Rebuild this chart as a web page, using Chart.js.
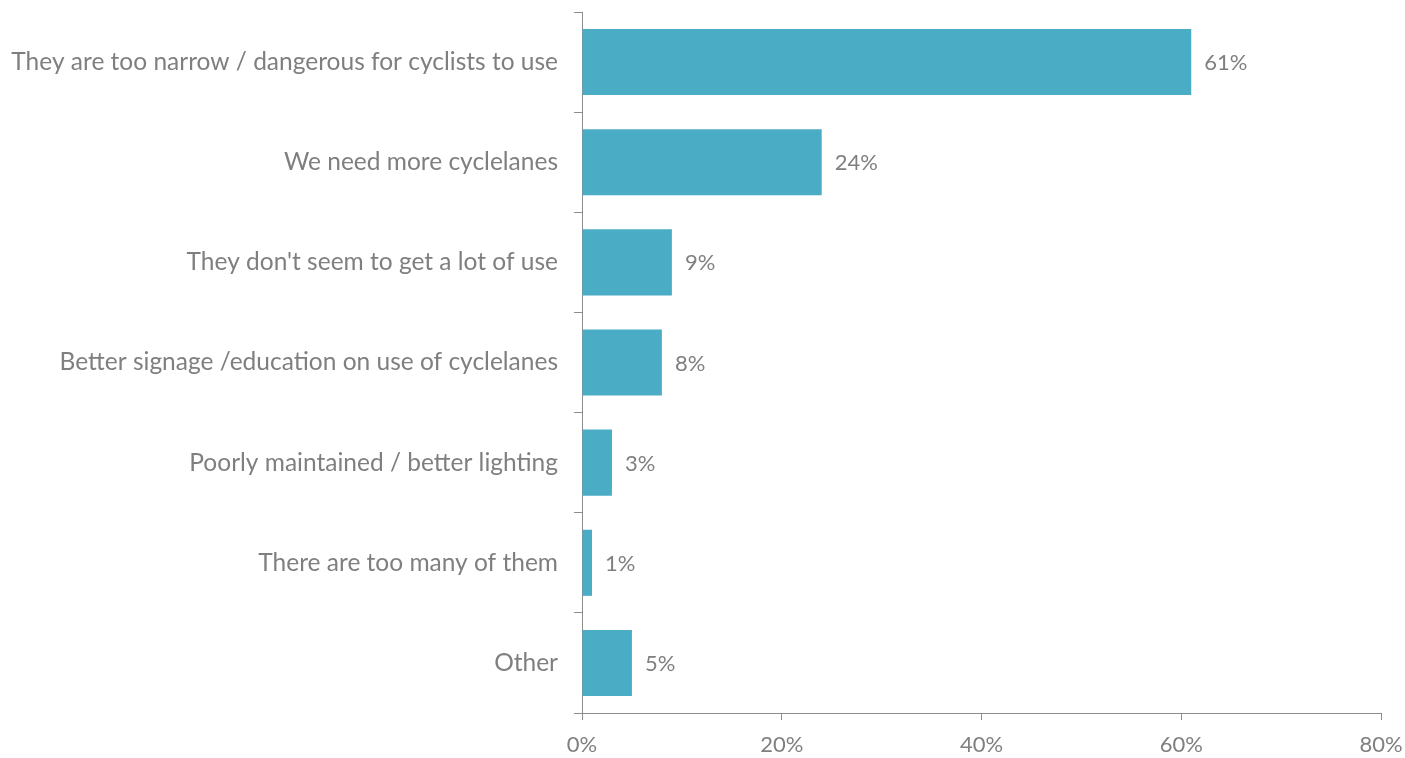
<!DOCTYPE html>
<html>
<head>
<meta charset="utf-8">
<script src="https://cdn.jsdelivr.net/npm/chart.js@4/dist/chart.umd.min.js"></script>
<style>
  html, body { margin: 0; padding: 0; background: #fff; }
  #wrap { width: 1405px; height: 758px; position: relative; }
</style>
</head>
<body>
<div id="wrap"><canvas id="cyclelanes"></canvas></div>
<script>
// Survey answers about cycle lanes, share of respondents (%)
const answers = [
  "They are too narrow / dangerous for cyclists to use",
  "We need more cyclelanes",
  "They don't seem to get a lot of use",
  "Better signage /education on use of cyclelanes",
  "Poorly maintained / better lighting",
  "There are too many of them",
  "Other",
];
const shares = [61, 24, 9, 8, 3, 1, 5];
const axisTicks = [0, 20, 40, 60, 80];

const TEXT = "#7f7f7f";
const LINE = "#8c8c8c";
const FONT = "Lato, 'Open Sans', sans-serif";

// value labels just past the end of each bar
const barLabels = {
  id: "barLabels",
  afterDatasetsDraw(chart) {
    const { ctx } = chart;
    const meta = chart.getDatasetMeta(0);
    ctx.save();
    ctx.font = `22px ${FONT}`;
    ctx.fillStyle = TEXT;
    ctx.textAlign = "left";
    ctx.textBaseline = "middle";
    meta.data.forEach((bar, i) => {
      ctx.fillText(`${shares[i]}%`, bar.x + 13, bar.y + 1);
    });
    ctx.restore();
  },
};

new Chart(document.getElementById("cyclelanes"), {
  type: "bar",
  data: {
    labels: answers,
    datasets: [{
      data: shares,
      backgroundColor: "#4bacc6",
      borderWidth: 0,
      barPercentage: 0.66,
      categoryPercentage: 1,
    }],
  },
  options: {
    indexAxis: "y",
    responsive: true,
    maintainAspectRatio: false,
    animation: false,
    layout: { padding: { top: 12, right: 24, left: 0, bottom: 0 } },
    plugins: { legend: { display: false }, tooltip: { enabled: false } },
    scales: {
      x: {
        min: 0,
        max: 80,
        afterBuildTicks(scale) {
          scale.ticks = axisTicks.map((v) => ({ value: v }));
        },
        afterFit(scale) {
          scale.height = 45;
          scale.paddingLeft = 0;
          scale.paddingRight = 0;
        },
        border: { color: LINE, width: 1 },
        grid: { drawOnChartArea: false, tickLength: 7, color: LINE },
        ticks: {
          color: TEXT,
          font: { family: FONT, size: 22 },
          padding: 12,
          callback: (v) => `${v}%`,
        },
      },
      y: {
        afterFit(scale) {
          scale.width = 582;
          scale.paddingTop = 0;
          scale.paddingBottom = 0;
        },
        border: { color: LINE, width: 1 },
        grid: { drawOnChartArea: false, tickLength: 8, color: LINE, offset: true },
        ticks: {
          color: TEXT,
          font: { family: FONT, size: 24.5 },
          padding: 16,
        },
      },
    },
  },
  plugins: [barLabels],
});
</script>
</body>
</html>
